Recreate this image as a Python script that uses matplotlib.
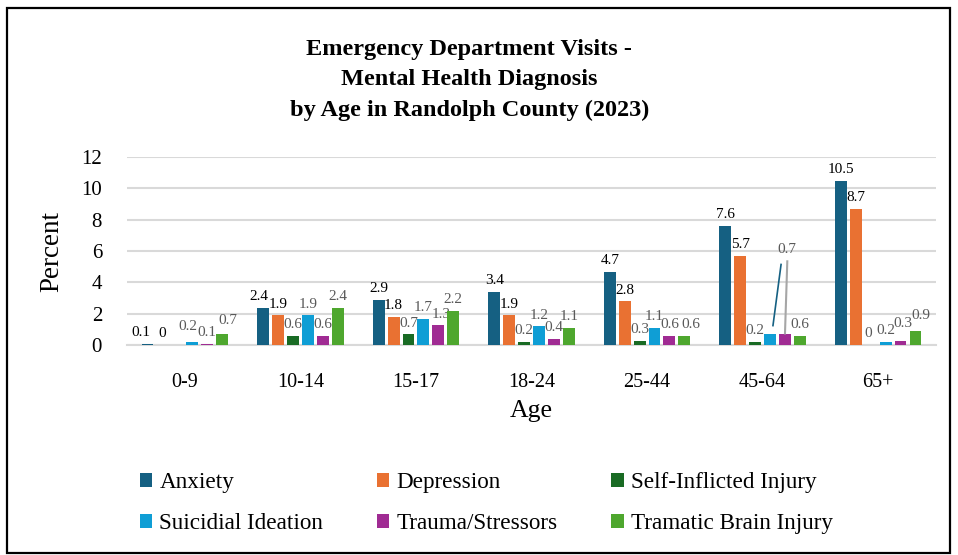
import numpy as np
import matplotlib.pyplot as plt
import matplotlib
from matplotlib.patches import Rectangle

matplotlib.rc('font', family='Liberation Serif')

ages = ['0-9', '10-14', '15-17', '18-24', '25-44', '45-64', '65+']
series = ['Anxiety', 'Depression', 'Self-Inflicted Injury',
          'Suicidial Ideation', 'Trauma/Stressors', 'Tramatic Brain Injury']
anxiety = [0.1, 2.4, 2.9, 3.4, 4.7, 7.6, 10.5]
depression = [0, 1.9, 1.8, 1.9, 2.8, 5.7, 8.7]
self_inflicted = [0, 0.6, 0.7, 0.2, 0.3, 0.2, 0]
suicidal = [0.2, 1.9, 1.7, 1.2, 1.1, 0.7, 0.2]
trauma = [0.1, 0.6, 1.3, 0.4, 0.6, 0.7, 0.3]
tbi = [0.7, 2.4, 2.2, 1.1, 0.6, 0.6, 0.9]
values = [anxiety, depression, self_inflicted, suicidal, trauma, tbi]
colors = ['#156082', '#E97132', '#196B24', '#0F9ED5', '#A02B93', '#4EA72E']

# small label nudges (points) like the ones Excel applied
nudge = {('0-9', 0): (-5, 0), ('0-9', 3): (-3, 3), ('0-9', 5): (4, 2),
         ('10-14', 0): (-3, 0), ('15-17', 4): (2, -1), ('25-44', 5): (5, 0),
         ('65+', 2): (-2, 0), ('65+', 4): (2, 4), ('65+', 5): (4, 3)}

fig = plt.figure(figsize=(9.58, 5.55), dpi=100)
ax = fig.add_axes([0.1326, 0.378, 0.8444, 0.339])

x = np.arange(len(ages))
width = 0.103
step = 0.129
rects = []
for i, (vals, c, name) in enumerate(zip(values, colors, series)):
    pos = x + (i - 2.5) * step
    r = ax.bar(pos, vals, width, color=c, label=name, zorder=3)
    rects.append(r)
    lc = 'black' if i < 2 else '#595959'
    for j, (p, v) in enumerate(zip(pos, vals)):
        if ages[j] == '0-9' and i == 2:
            continue
        if ages[j] == '45-64' and i in (3, 4):
            continue
        dx, dy = nudge.get((ages[j], i), (0, 0))
        ax.annotate('%g' % v, (p, v), xytext=(dx, 3.4 + dy),
                    textcoords='offset points', ha='center', va='bottom',
                    fontsize=11, color=lc)

# shared callout for 45-64 suicidal ideation / trauma
k = ages.index('45-64')
p3 = x[k] + (3 - 2.5) * step
p4 = x[k] + (4 - 2.5) * step
ax.plot([p3 + 0.025, p3 + 0.095], [suicidal[k] + 0.55, suicidal[k] + 4.45],
        color='#156082', lw=1.2, zorder=4)
ax.plot([p4, p4 + 0.02], [trauma[k] + 0.05, trauma[k] + 4.65],
        color='#A6A6A6', lw=1.5, zorder=4)
ax.text(p4 + 0.02, trauma[k] + 5.4, '%g' % trauma[k], ha='center',
        va='center', fontsize=11, color='#595959')

ax.set_xlim(-0.5, len(ages) - 0.5)
ax.set_ylim(0, 12)
ax.set_yticks(np.arange(0, 13, 2))
ax.set_xticks(x)
ax.set_xticklabels(ages, fontsize=14.5)
ax.tick_params(axis='y', labelsize=15, length=0, pad=18)
ax.tick_params(axis='x', length=0, pad=20)
ax.grid(axis='y', color='#D9D9D9', lw=1.5, zorder=0)
for s in ['top', 'right', 'left']:
    ax.spines[s].set_visible(False)
ax.spines['bottom'].set_color('#D9D9D9')
ax.spines['bottom'].set_linewidth(1.5)
ax.set_xlabel('Age', fontsize=18.5, labelpad=6)
ax.set_ylabel('Percent', fontsize=19.5, labelpad=12)

fig.text(0.49, 0.93, 'Emergency Department Visits -\nMental Health Diagnosis\nby Age in Randolph County (2023)',
         ha='center', va='top', fontsize=17.5, fontweight='bold', linespacing=1.58)

order = [0, 3, 1, 4, 2, 5]
h = [rects[i] for i in order]
l = [series[i] for i in order]
leg = fig.legend(h, l, ncol=3, loc='lower left', frameon=False, fontsize=16.7,
                 handlelength=0.55, handleheight=0.55, handletextpad=0.3,
                 columnspacing=2.3, labelspacing=0.85,
                 bbox_to_anchor=(0.124, 0.0), bbox_transform=fig.transFigure)

fig.add_artist(Rectangle((0.007, 0.003), 0.985, 0.982, transform=fig.transFigure,
                         fill=False, edgecolor='black', lw=1.6))

plt.savefig('out.png', dpi=100)
